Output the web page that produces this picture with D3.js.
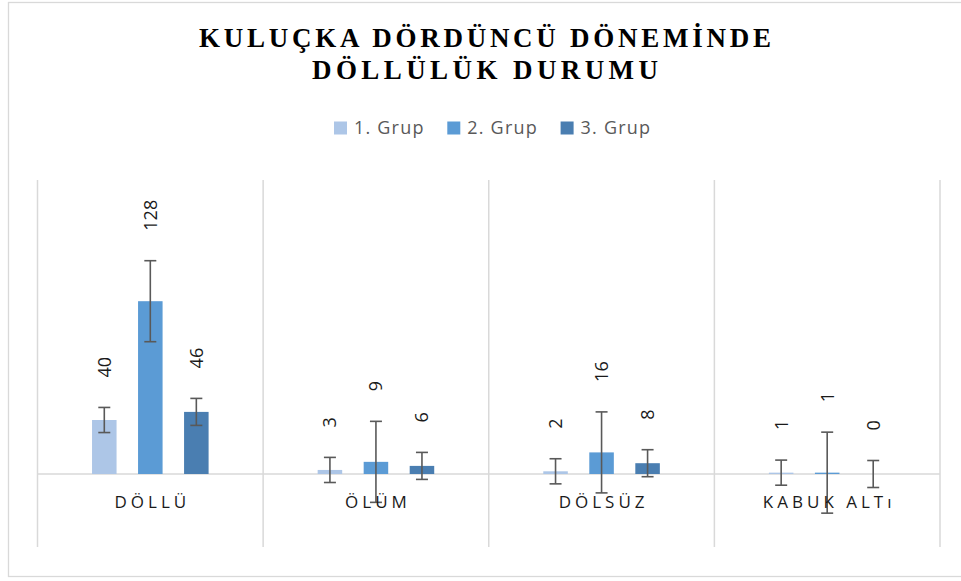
<!DOCTYPE html>
<html>
<head>
<meta charset="utf-8">
<script src="https://cdn.jsdelivr.net/npm/d3@7"></script>
<style>
  body { margin: 0; background: #fff; }
  svg { display: block; }
</style>
</head>
<body>
<div id="chart"></div>
<script>
////////
// Data
let categories = ["DÖLLÜ", "ÖLÜM", "DÖLSÜZ", "KABUK ALTı"];
let seriesNames = ["1. Grup", "2. Grup", "3. Grup"];
let grup1 = [40, 3, 2, 1];
let grup2 = [128, 9, 16, 1];
let grup3 = [46, 6, 8, 0];
// error bar size, one per series
let errors = [9.3, 30, 10];
let titleLines = ["KULUÇKA DÖRDÜNCÜ DÖNEMİNDE", "DÖLLÜLÜK DURUMU"];
let colors = ["#adc6e7", "#5b9bd5", "#4a7eb1"];

let seriesValues = [grup1, grup2, grup3];
let rows = [];
categories.forEach(function(c, ci) {
  seriesNames.forEach(function(s, si) {
    rows.push({cat: c, series: s, si: si, value: seriesValues[si][ci], err: errors[si]});
  });
});

////////
// Canvas
let svg_width = 961;
let svg_height = 581;

let svg = d3.select("#chart")
  .append("svg")
  .attr("width", svg_width)
  .attr("height", svg_height)
  .style("font-family", "'Open Sans', 'Noto Sans', sans-serif");

// chart frame
svg.append("rect")
  .attr("x", 8.5)
  .attr("y", 2.5)
  .attr("width", 960)
  .attr("height", 574)
  .attr("fill", "none")
  .attr("stroke", "#d9d9d9")
  .attr("stroke-width", 1.3);

////////
// Scales
let plotLeft = 37.5, plotRight = 940, plotTop = 180, plotBottom = 547;

let xScale = d3.scaleBand()
  .domain(categories)
  .range([plotLeft, plotRight]);

let xInner = d3.scaleBand()
  .domain(seriesNames)
  .range([0, xScale.bandwidth()])
  .paddingInner(0.467)
  .paddingOuter(1.185);

let yScale = d3.scaleLinear()
  .domain([0, 100])
  .range([474, 339]);

////////
// Gridlines between categories + baseline
let bounds = categories.map(function(c) { return xScale(c); }).concat([plotRight]);
svg.selectAll("line.grid")
  .data(bounds)
  .enter()
  .append("line")
  .attr("class", "grid")
  .attr("x1", d => d).attr("x2", d => d)
  .attr("y1", plotTop).attr("y2", plotBottom)
  .attr("stroke", "#d9d9d9")
  .attr("stroke-width", 1.5);

svg.append("line")
  .attr("x1", plotLeft).attr("x2", plotRight)
  .attr("y1", yScale(0)).attr("y2", yScale(0))
  .attr("stroke", "#d9d9d9")
  .attr("stroke-width", 1.5);

////////
// Bars
svg.selectAll("rect.bar")
  .data(rows)
  .enter()
  .append("rect")
  .attr("class", "bar")
  .attr("x", d => xScale(d.cat) + xInner(d.series))
  .attr("width", xInner.bandwidth())
  .attr("y", d => yScale(d.value))
  .attr("height", d => yScale(0) - yScale(d.value))
  .attr("fill", d => colors[d.si]);

////////
// Error bars
let capHalf = 6;
let eb = svg.selectAll("g.err")
  .data(rows)
  .enter()
  .append("g")
  .attr("class", "err")
  .attr("stroke", "#595959")
  .attr("stroke-width", 1.6);

function cx(d) { return xScale(d.cat) + xInner(d.series) + xInner.bandwidth() / 2; }

eb.append("line")
  .attr("x1", cx).attr("x2", cx)
  .attr("y1", d => yScale(d.value + d.err))
  .attr("y2", d => yScale(d.value - d.err));
eb.append("line")
  .attr("x1", d => cx(d) - capHalf).attr("x2", d => cx(d) + capHalf)
  .attr("y1", d => yScale(d.value + d.err))
  .attr("y2", d => yScale(d.value + d.err));
eb.append("line")
  .attr("x1", d => cx(d) - capHalf).attr("x2", d => cx(d) + capHalf)
  .attr("y1", d => yScale(d.value - d.err))
  .attr("y2", d => yScale(d.value - d.err));

////////
// Value labels, rotated
svg.selectAll("text.val")
  .data(rows)
  .enter()
  .append("text")
  .attr("class", "val")
  .attr("transform", d => `translate(${cx(d)},${yScale(d.value + d.err) - 30}) rotate(-90)`)
  .attr("dy", "0.36em")
  .attr("text-anchor", "start")
  .attr("font-size", 18)
  .attr("fill", "#1a1a1a")
  .text(d => d.value);

////////
// Category labels
svg.selectAll("text.cat")
  .data(categories)
  .enter()
  .append("text")
  .attr("class", "cat")
  .attr("x", d => xScale(d) + xScale.bandwidth() / 2 + 2)
  .attr("y", 508)
  .attr("text-anchor", "middle")
  .attr("font-size", 17)
  .attr("letter-spacing", "4px")
  .attr("fill", "#1a1a1a")
  .text(d => d);

////////
// Title
svg.selectAll("text.title")
  .data(titleLines)
  .enter()
  .append("text")
  .attr("class", "title")
  .attr("x", 485)
  .attr("y", (d, i) => 47 + i * 32)
  .attr("text-anchor", "middle")
  .attr("font-family", "'Liberation Serif', 'Times New Roman', serif")
  .attr("font-weight", "bold")
  .attr("font-size", 27)
  .attr("textLength", (d, i) => i === 0 ? 572 : 346)
  .attr("lengthAdjust", "spacing")
  .attr("fill", "#000")
  .text(d => d);

////////
// Legend
let legend = svg.selectAll("g.legend")
  .data(seriesNames)
  .enter()
  .append("g")
  .attr("class", "legend")
  .attr("transform", (d, i) => `translate(${334 + i * 113.3},128)`);

legend.append("rect")
  .attr("x", 0).attr("y", -6.5)
  .attr("width", 13).attr("height", 13)
  .attr("fill", (d, i) => colors[i]);

legend.append("text")
  .attr("x", 20)
  .attr("dy", "0.36em")
  .attr("font-size", 18)
  .attr("letter-spacing", "1.2px")
  .attr("fill", "#595959")
  .text(d => d);
</script>
</body>
</html>
